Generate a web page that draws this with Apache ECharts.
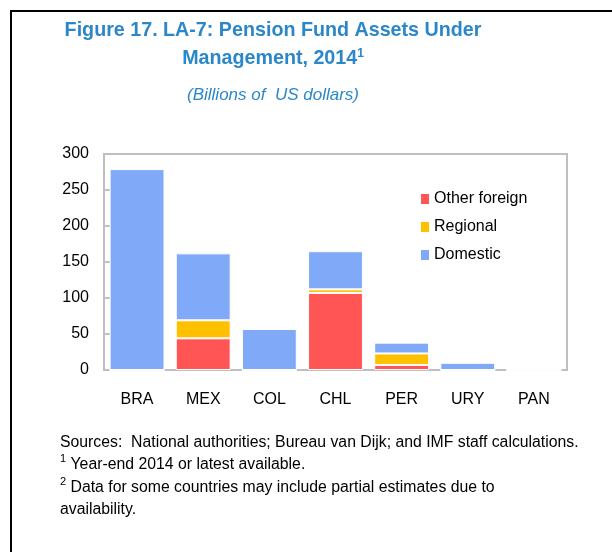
<!DOCTYPE html>
<html>
<head>
<meta charset="utf-8">
<script src="https://cdn.jsdelivr.net/npm/echarts@6/dist/echarts.min.js"></script>
<style>
  html, body { margin: 0; padding: 0; background: #fff; }
  #main { width: 612px; height: 552px; }
</style>
</head>
<body>
<div id="main"></div>
<script>
var categories = ['BRA', 'MEX', 'COL', 'CHL', 'PER', 'URY', 'PAN'];
var otherForeign = [0, 44, 0, 107, 7, 0, 0];
var regional = [0, 25, 0, 5, 16, 0, 0];
var domestic = [279, 93, 57, 53, 15, 10, 2];
var yTicks = [0, 50, 100, 150, 200, 250, 300];

var FONT = 'Liberation Sans';
var BLUE_TITLE = '#2B87C8';
var TITLE_X = 273;

function build() {
    var myChart = echarts.init(document.getElementById('main'));

    var option = {
        animation: false,
        textStyle: { fontFamily: FONT },
        legend: {
            orient: 'vertical',
            left: 414,
            top: 186,
            itemWidth: 10,
            itemHeight: 12,
            itemGap: 12,
            icon: 'rect',
            data: ['Other foreign', 'Regional', 'Domestic'],
            textStyle: { fontFamily: FONT, fontSize: 16, color: '#000', padding: [0, 0, 0, -1] }
        },
        grid: {
            left: 104,
            top: 154,
            width: 463,
            height: 216,
            show: true,
            borderColor: '#BFBFBF',
            borderWidth: 2
        },
        xAxis: {
            type: 'category',
            data: categories,
            axisLine: { lineStyle: { color: '#BFBFBF', width: 2 } },
            axisTick: { show: false },
            axisLabel: { fontFamily: FONT, fontSize: 16, color: '#000', margin: 22 }
        },
        yAxis: {
            type: 'value',
            min: yTicks[0],
            max: yTicks[yTicks.length - 1],
            interval: 50,
            axisLine: { show: true, lineStyle: { color: '#BFBFBF', width: 2 } },
            axisTick: { show: true, inside: true, length: 6, lineStyle: { color: '#BFBFBF', width: 2 } },
            splitLine: { show: false },
            axisLabel: { fontFamily: FONT, fontSize: 16, color: '#000', margin: 15 }
        },
        series: [
            {
                name: 'Other foreign', type: 'bar', stack: 'total', data: otherForeign,
                barCategoryGap: '17%',
                itemStyle: { color: '#FF5555', borderColor: '#fff', borderWidth: 1 }
            },
            {
                name: 'Regional', type: 'bar', stack: 'total', data: regional,
                itemStyle: { color: '#FFC000', borderColor: '#fff', borderWidth: 1 }
            },
            {
                name: 'Domestic', type: 'bar', stack: 'total', data: domestic,
                itemStyle: { color: '#80AAF7', borderColor: '#fff', borderWidth: 1 }
            }
        ],
        graphic: [
            {
                type: 'rect',
                shape: { x: 11, y: 11, width: 700, height: 700 },
                style: { fill: 'none', stroke: '#000', lineWidth: 2 },
                silent: true
            },
            {
                type: 'text', x: TITLE_X, y: 31,
                style: {
                    text: 'Figure 17. LA-7: Pension Fund Assets Under',
                    font: 'bold 19.7px "Liberation Sans"',
                    fill: BLUE_TITLE, align: 'center', verticalAlign: 'middle'
                }
            },
            {
                type: 'text', x: TITLE_X, y: 59,
                style: {
                    text: 'Management, 2014{s|1}',
                    font: 'bold 19.7px "Liberation Sans"',
                    fill: BLUE_TITLE, align: 'center', verticalAlign: 'middle',
                    rich: { s: { font: 'bold 12px "Liberation Sans"', fill: BLUE_TITLE, verticalAlign: 'top', padding: [0, 0, 10, 0] } }
                }
            },
            {
                type: 'text', x: TITLE_X, y: 95,
                style: {
                    text: '(Billions of  US dollars)',
                    font: 'italic 17px "Liberation Sans"',
                    fill: BLUE_TITLE, align: 'center', verticalAlign: 'middle'
                }
            },
            {
                type: 'text', left: 60, top: 431,
                style: {
                    text: 'Sources:  National authorities; Bureau van Dijk; and IMF staff calculations.\n{s|1} Year-end 2014 or latest available.\n{s|2} Data for some countries may include partial estimates due to\navailability.',
                    font: '15.8px "Liberation Sans"',
                    fill: '#000',
                    lineHeight: 22.5,
                    rich: { s: { fontSize: 11, verticalAlign: 'top', lineHeight: 22.5, padding: [0, 0, 6, 0] } }
                }
            }
        ]
    };

    myChart.setOption(option);
}

build();
</script>
</body>
</html>
